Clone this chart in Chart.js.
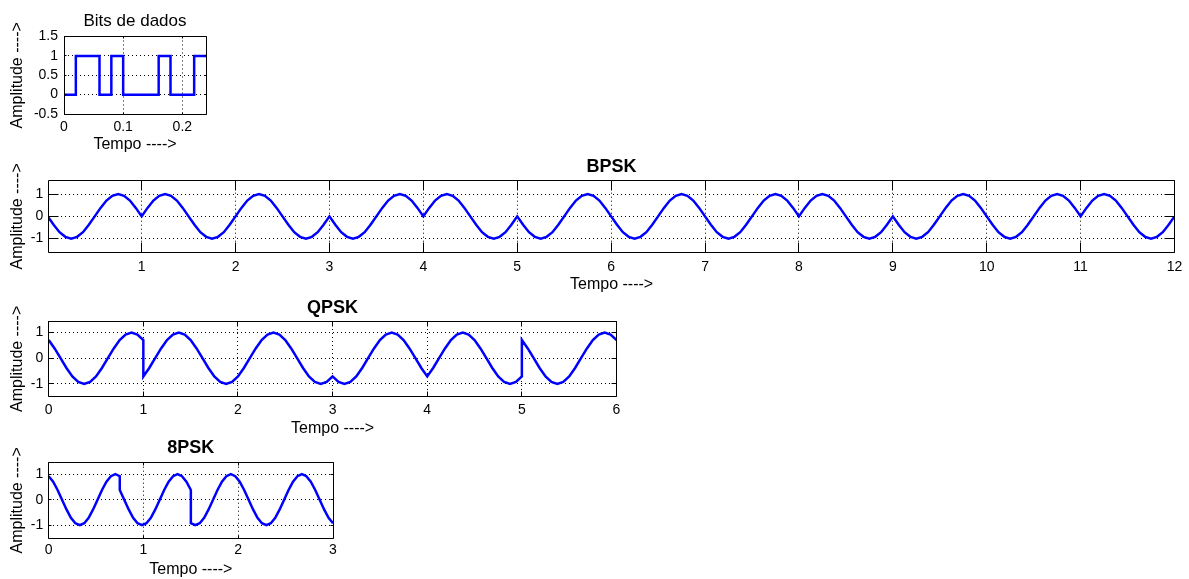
<!DOCTYPE html>
<html>
<head>
<meta charset="utf-8">
<script src="https://cdn.jsdelivr.net/npm/chart.js@4.4.0/dist/chart.umd.min.js"></script>
<style>
html,body{margin:0;padding:0;background:#fff;overflow:hidden;width:1189px;height:579px;}
canvas{position:absolute;left:0;}
</style>
</head>
<body>
<canvas id="bits" width="230" height="154" style="top:0px"></canvas>
<canvas id="bpsk" width="1189" height="144" style="top:150px"></canvas>
<canvas id="qpsk" width="640" height="148" style="top:290px"></canvas>
<canvas id="epsk" width="360" height="149" style="top:430px"></canvas>
<script>
// ---------------- DATA ----------------
// Data bits (square wave): start time of each bit and its level (last entry closes the final bit)
const bitTimes  = [0, 0.02, 0.04, 0.06, 0.08, 0.10, 0.12, 0.14, 0.16, 0.18, 0.20, 0.22, 0.24];
const bitLevels = [0, 1,    1,    0,    1,    0,    0,    0,    1,    0,    0,    1,    1];

// BPSK: 12 symbols of 1 time unit, 17 samples per symbol (endpoints included)
const bpskSymbolTime = 1;
const bpskSymbols = [
  [0,-.38,-.71,-.92,-1,-.92,-.71,-.38,0,.38,.71,.92,1,.92,.71,.38,0],
  [0,.38,.71,.92,1,.92,.71,.38,0,-.38,-.71,-.92,-1,-.92,-.71,-.38,0],
  [0,.38,.71,.92,1,.92,.71,.38,0,-.38,-.71,-.92,-1,-.92,-.71,-.38,0],
  [0,-.38,-.71,-.92,-1,-.92,-.71,-.38,0,.38,.71,.92,1,.92,.71,.38,0],
  [0,.38,.71,.92,1,.92,.71,.38,0,-.38,-.71,-.92,-1,-.92,-.71,-.38,0],
  [0,-.38,-.71,-.92,-1,-.92,-.71,-.38,0,.38,.71,.92,1,.92,.71,.38,0],
  [0,-.38,-.71,-.92,-1,-.92,-.71,-.38,0,.38,.71,.92,1,.92,.71,.38,0],
  [0,-.38,-.71,-.92,-1,-.92,-.71,-.38,0,.38,.71,.92,1,.92,.71,.38,0],
  [0,.38,.71,.92,1,.92,.71,.38,0,-.38,-.71,-.92,-1,-.92,-.71,-.38,0],
  [0,-.38,-.71,-.92,-1,-.92,-.71,-.38,0,.38,.71,.92,1,.92,.71,.38,0],
  [0,-.38,-.71,-.92,-1,-.92,-.71,-.38,0,.38,.71,.92,1,.92,.71,.38,0],
  [0,.38,.71,.92,1,.92,.71,.38,0,-.38,-.71,-.92,-1,-.92,-.71,-.38,0]
];

// QPSK: 6 symbols of 1 time unit
const qpskSymbolTime = 1;
const qpskSymbols = [
  [.71,.38,0,-.38,-.71,-.92,-1,-.92,-.71,-.38,0,.38,.71,.92,1,.92,.71],
  [-.71,-.38,0,.38,.71,.92,1,.92,.71,.38,0,-.38,-.71,-.92,-1,-.92,-.71],
  [-.71,-.38,0,.38,.71,.92,1,.92,.71,.38,0,-.38,-.71,-.92,-1,-.92,-.71],
  [-.71,-.92,-1,-.92,-.71,-.38,0,.38,.71,.92,1,.92,.71,.38,0,-.38,-.71],
  [-.71,-.38,0,.38,.71,.92,1,.92,.71,.38,0,-.38,-.71,-.92,-1,-.92,-.71],
  [.71,.38,0,-.38,-.71,-.92,-1,-.92,-.71,-.38,0,.38,.71,.92,1,.92,.71]
];

// 8PSK: 4 symbols of 0.75 time units
const epskSymbolTime = 0.75;
const epskSymbols = [
  [.92,.71,.38,0,-.38,-.71,-.92,-1,-.92,-.71,-.38,0,.38,.71,.92,1,.92],
  [.38,0,-.38,-.71,-.92,-1,-.92,-.71,-.38,0,.38,.71,.92,1,.92,.71,.38],
  [-.92,-1,-.92,-.71,-.38,0,.38,.71,.92,1,.92,.71,.38,0,-.38,-.71,-.92],
  [-.92,-1,-.92,-.71,-.38,0,.38,.71,.92,1,.92,.71,.38,0,-.38,-.71,-.92]
];

// Tick values
const bitsXTicks = [0, 0.1, 0.2];
const bitsYTicks = [-0.5, 0, 0.5, 1, 1.5];
const bpskXTicks = [1, 2, 3, 4, 5, 6, 7, 8, 9, 10, 11, 12];
const qpskXTicks = [0, 1, 2, 3, 4, 5, 6];
const epskXTicks = [0, 1, 2, 3];
const pskYTicks  = [-1, 0, 1];

// Texts
const titles = {bits: 'Bits de dados', bpsk: 'BPSK', qpsk: 'QPSK', epsk: '8PSK'};
const xTitle = 'Tempo ---->';
const yTitle = 'Amplitude ---->';

// ---------------- RENDERING ----------------
const FONT = "'Liberation Sans', Arial, Helvetica, sans-serif";

function symbolPoints(symbols, symbolTime) {
  const pts = [];
  symbols.forEach((sym, s) => {
    const n = sym.length - 1;
    sym.forEach((v, k) => pts.push({x: s * symbolTime + k * symbolTime / n, y: v}));
  });
  return pts;
}

const alignPx = p => Math.round(p - 0.5) + 0.5;

const matlabAxes = {
  id: 'matlabAxes',
  afterDraw(chart, args, opts) {
    const {ctx, chartArea: a} = chart;
    const xs = chart.scales.x, ys = chart.scales.y;
    const L = alignPx(a.left), R = alignPx(a.right), T = alignPx(a.top), B = alignPx(a.bottom);
    const len = opts.tickLength || 0;
    ctx.save();
    ctx.strokeStyle = '#000';
    ctx.lineWidth = 1;
    ctx.setLineDash([]);
    ctx.beginPath();
    ctx.rect(L, T, R - L, B - T);
    xs.ticks.forEach(t => {
      const px = alignPx(xs.getPixelForValue(t.value));
      ctx.moveTo(px, B); ctx.lineTo(px, B - len);
      ctx.moveTo(px, T); ctx.lineTo(px, T + len);
    });
    ys.ticks.forEach(t => {
      const py = alignPx(ys.getPixelForValue(t.value));
      ctx.moveTo(L, py); ctx.lineTo(L + len, py);
      ctx.moveTo(R, py); ctx.lineTo(R - len, py);
    });
    ctx.stroke();
    ctx.restore();
  }
};

function makeChart(id, data, p) {
  const tickFont = {family: FONT, size: 14};
  return new Chart(document.getElementById(id), {
    type: 'line',
    data: {datasets: [{
      data: data,
      borderColor: '#0000ff',
      borderWidth: 2.5,
      pointRadius: 0,
      tension: 0,
      fill: false,
      stepped: p.stepped || false
    }]},
    options: {
      responsive: false,
      animation: false,
      events: [],
      layout: {padding: {left: 0, top: 0, right: p.padRight, bottom: 0}},
      plugins: {
        legend: {display: false},
        tooltip: {enabled: false},
        title: {
          display: true, text: p.title, fullSize: false, color: '#000',
          font: {family: FONT, size: p.titleSize, weight: p.titleWeight, lineHeight: 1.2},
          padding: {top: p.titlePadTop, bottom: p.titlePadBottom}
        },
        matlabAxes: {tickLength: p.tickLength}
      },
      scales: {
        x: {
          type: 'linear', min: p.xMin, max: p.xMax,
          afterBuildTicks: s => { s.ticks = p.xTicks.map(v => ({value: v})); },
          afterFit: s => { s.height = p.xHeight; },
          ticks: {padding: p.xPad, color: '#000', font: tickFont, autoSkip: false, maxRotation: 0, callback: v => String(v)},
          grid: {color: '#000', lineWidth: 1, drawTicks: false},
          border: {display: false, dash: [1, 3]},
          title: {display: true, text: xTitle, color: '#000', font: {family: FONT, size: 16, lineHeight: 1.2}, padding: {top: 0, bottom: 0}}
        },
        y: {
          type: 'linear', min: p.yMin, max: p.yMax,
          afterBuildTicks: s => { s.ticks = p.yTicks.map(v => ({value: v})); },
          afterFit: s => { s.width = p.yWidth; },
          ticks: {padding: p.yPad, color: '#000', font: tickFont, autoSkip: false, callback: v => String(v)},
          grid: {color: '#000', lineWidth: 1, drawTicks: false},
          border: {display: false, dash: [1, 3]},
          title: {display: true, text: yTitle, color: '#000', font: {family: FONT, size: 16, lineHeight: 1.2}, padding: {top: 8.4, bottom: 0}}
        }
      }
    },
    plugins: [matlabAxes]
  });
}

// Bits chart
makeChart('bits', bitTimes.map((t, i) => ({x: t, y: bitLevels[i]})), {
  stepped: true, title: titles.bits, titleSize: 17, titleWeight: 'normal',
  titlePadTop: 10.8, titlePadBottom: 5.3, padRight: 24,
  xMin: 0, xMax: 0.24, xTicks: bitsXTicks, xHeight: 40, xPad: 4.7,
  yMin: -0.5, yMax: 1.5, yTicks: bitsYTicks, yWidth: 64, yPad: 6, tickLength: 2
});

// BPSK
makeChart('bpsk', symbolPoints(bpskSymbols, bpskSymbolTime), {
  title: titles.bpsk, titleSize: 18, titleWeight: 'bold',
  titlePadTop: 6.7, titlePadBottom: 2.4, padRight: 10.3,
  xMin: 0.01, xMax: 12, xTicks: bpskXTicks, xHeight: 42, xPad: 6.7,
  yMin: -1.6, yMax: 1.6, yTicks: pskYTicks, yWidth: 48.7, yPad: 5.4, tickLength: 10
});

// QPSK
makeChart('qpsk', symbolPoints(qpskSymbols, qpskSymbolTime), {
  title: titles.qpsk, titleSize: 18, titleWeight: 'bold',
  titlePadTop: 7.7, titlePadBottom: 1.7, padRight: 23.5,
  xMin: 0, xMax: 6, xTicks: qpskXTicks, xHeight: 41.3, xPad: 5.3,
  yMin: -1.5, yMax: 1.45, yTicks: pskYTicks, yWidth: 48.7, yPad: 5.4, tickLength: 5
});

// 8PSK
makeChart('epsk', symbolPoints(epskSymbols, epskSymbolTime), {
  title: titles.epsk, titleSize: 18, titleWeight: 'bold',
  titlePadTop: 7.2, titlePadBottom: 3.9, padRight: 27,
  xMin: 0, xMax: 3, xTicks: epskXTicks, xHeight: 41, xPad: 3.7,
  yMin: -1.5, yMax: 1.45, yTicks: pskYTicks, yWidth: 48.7, yPad: 5.4, tickLength: 3
});
</script>
</body>
</html>
